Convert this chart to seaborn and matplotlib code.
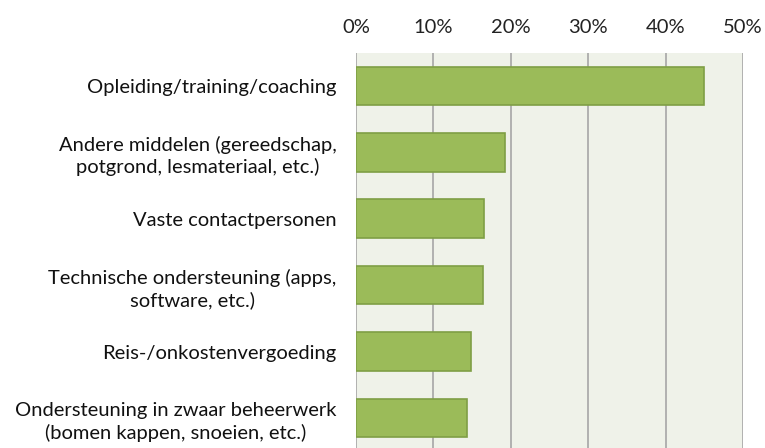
import pandas as pd
import seaborn as sns
import matplotlib.pyplot as plt
from matplotlib.ticker import PercentFormatter

categories = [
    "Opleiding/training/coaching",
    "Andere middelen (gereedschap,\npotgrond, lesmateriaal, etc.)",
    "Vaste contactpersonen",
    "Technische ondersteuning (apps,\nsoftware, etc.)",
    "Reis-/onkostenvergoeding",
    "Ondersteuning in zwaar beheerwerk\n(bomen kappen, snoeien, etc.)",
]
shares = [45.0, 19.3, 16.5, 16.4, 14.9, 14.3]

df = pd.DataFrame({"category": categories, "share": shares})

sns.set_style("white")
plt.rcParams["font.family"] = ["Lato", "DejaVu Sans"]

fig = plt.figure(figsize=(7.65, 4.48), dpi=100)
ax = fig.add_axes([356 / 765, -3.2 / 448, 387 / 765, 398.5 / 448])
ax.set_facecolor("#EFF2E9")

sns.barplot(data=df, x="share", y="category", color="#9BBB59",
            saturation=1, width=0.58, edgecolor="#7F9F45", linewidth=1.2, ax=ax)

ax.set_xlim(0, 50)
ax.set_xticks(range(0, 51, 10))
ax.xaxis.set_major_formatter(PercentFormatter(decimals=0))
ax.xaxis.tick_top()
ax.grid(axis="x", color="#A6A6A6", linewidth=1.2)
ax.set_axisbelow(True)
for s in ax.spines.values():
    s.set_visible(False)
ax.tick_params(axis="x", length=0, pad=12, labelsize=14.5, colors="#222222")
ax.tick_params(axis="y", length=0, pad=14, labelsize=14.5, colors="#111111")
for lab in ax.get_yticklabels():
    lab.set_horizontalalignment("right")
    lab.set_multialignment("center")
    lab.set_linespacing(1.3)
ax.set_xlabel("")
ax.set_ylabel("")

fig.savefig("out.png", dpi=100)
